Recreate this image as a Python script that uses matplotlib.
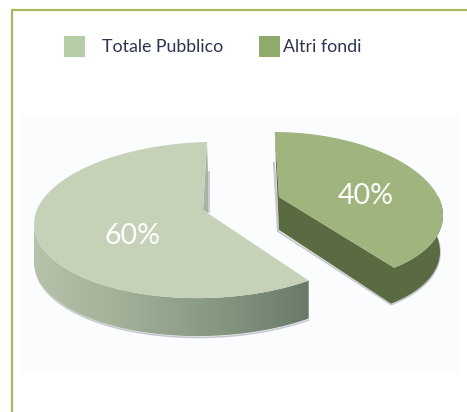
import numpy as np
import matplotlib
matplotlib.use("Agg")
import matplotlib.pyplot as plt
from matplotlib.patches import Polygon, Rectangle
from matplotlib.colors import LinearSegmentedColormap

categories = ["Totale Pubblico", "Altri fondi"]
values = [60, 40]
labels = ["60%", "40%"]

W, H = 467, 412
plt.rcParams["font.family"] = ["Lato", "DejaVu Sans"]
fig = plt.figure(figsize=(W/100, H/100), dpi=100, facecolor="white")
ax = fig.add_axes([0, 0, 1, 1])
ax.set_xlim(0, W); ax.set_ylim(H, 0); ax.axis("off")

# frame and panel
ax.plot([467, 12, 12], [10, 10, 412], color="#a9b85f", lw=1.6, solid_capstyle="butt")
ax.add_patch(Rectangle((21, 115), 439, 258, fc="#fbfcfe", ec="none", zorder=0))

# legend
leg_x = [64, 259]; txt_x = [102, 283]; leg_col = ["#b5cea6", "#8fab6c"]
for c, lx, tx, col in zip(categories, leg_x, txt_x, leg_col):
    ax.add_patch(Rectangle((lx, 36), 21, 21, fc=col, ec="none"))
    ax.text(tx, 46.5, c, fontsize=12.8, color="#2b3550", va="center", ha="left")

def arc(cx, cy, rx, ry, a0, a1, shear=0.0, tilt=0.0, n=160):
    t = np.radians(np.linspace(a0, a1, n))
    x0 = rx*np.cos(t)
    y = cy - ry*np.sin(t) + tilt*x0
    x = cx + x0 + shear*(y-cy)
    return x, y

fr = np.array(values)/sum(values)*360
cmap = LinearSegmentedColormap.from_list("w", ["#b6c3aa", "#a0af96", "#869782", "#6a7a69"])

# left slice (60%): counter-clockwise from the top
c1 = (207, 220, 173, 78); d1 = 38; apex1 = (203, 210)
x1, y1 = arc(*c1, 90, 90+fr[0], tilt=-0.025)
lo = y1 >= 224
ax.fill_between(x1[lo], y1[lo]+d1, y1[lo]+d1+1.6, color="#c4c7ce", lw=0, zorder=1)
ax.plot([208.5, 208.5], [172, 212], color="#c0c2c8", lw=1.2, zorder=1)
ax.add_patch(Polygon([(207, 142), apex1, (208, 213), (208, 172)], fc="#a9b3a0", ec="none", zorder=2))
wx = x1[lo]; wy = y1[lo]
wall = Polygon(np.r_[np.c_[wx, wy], np.c_[wx[::-1], wy[::-1]+d1]], fc="none", ec="none", zorder=2)
ax.add_patch(wall)
im = ax.imshow(np.linspace(0, 1, 256)[None, :], cmap=cmap, extent=[wx.min(), wx.max(), 345, 200],
               aspect="auto", zorder=2)
im.set_clip_path(wall)
ax.set_xlim(0, W); ax.set_ylim(H, 0)
ax.add_patch(Polygon(np.r_[np.c_[x1, y1], [apex1]], fc="#c5d2b8", ec="none", zorder=3))

# right slice (40%): clockwise from the top
c2 = (292, 207, 150, 75); d2 = 36; apex2 = (279, 197); s2 = 0.23
x2, y2 = arc(*c2, 90, 90-fr[1], shear=s2)
sel = (x2 > 300) & (y2 > 195)
sx, sy = x2[sel], y2[sel]
ax.plot(np.r_[[279], sx[::-1]-3], np.r_[[232], sy[::-1]+d2+1], color="#c4c7ce", lw=1.2, zorder=1)
ax.plot([274, 278], [163, 231], color="#c4c7ce", lw=1.5, zorder=1)
side = np.r_[np.c_[sx, sy], [apex2], [(279, 197+d2-3)], np.c_[sx[::-1]-3, sy[::-1]+d2]]
ax.add_patch(Polygon(side, fc="#5a6b42", ec="none", zorder=2))
ax.add_patch(Polygon([(275, 132), apex2, (279, 230), (276, 165)], fc="#5a6b42", ec="none", zorder=2))
ax.add_patch(Polygon(np.r_[np.c_[x2, y2], [apex2]], fc="#a0b47e", ec="none", zorder=3))

ax.text(133, 236, labels[0], fontsize=20.5, color="white", ha="center", va="center", zorder=5)
ax.text(366, 196, labels[1], fontsize=20.5, color="white", ha="center", va="center", zorder=5)

fig.savefig("out.png", dpi=100)
